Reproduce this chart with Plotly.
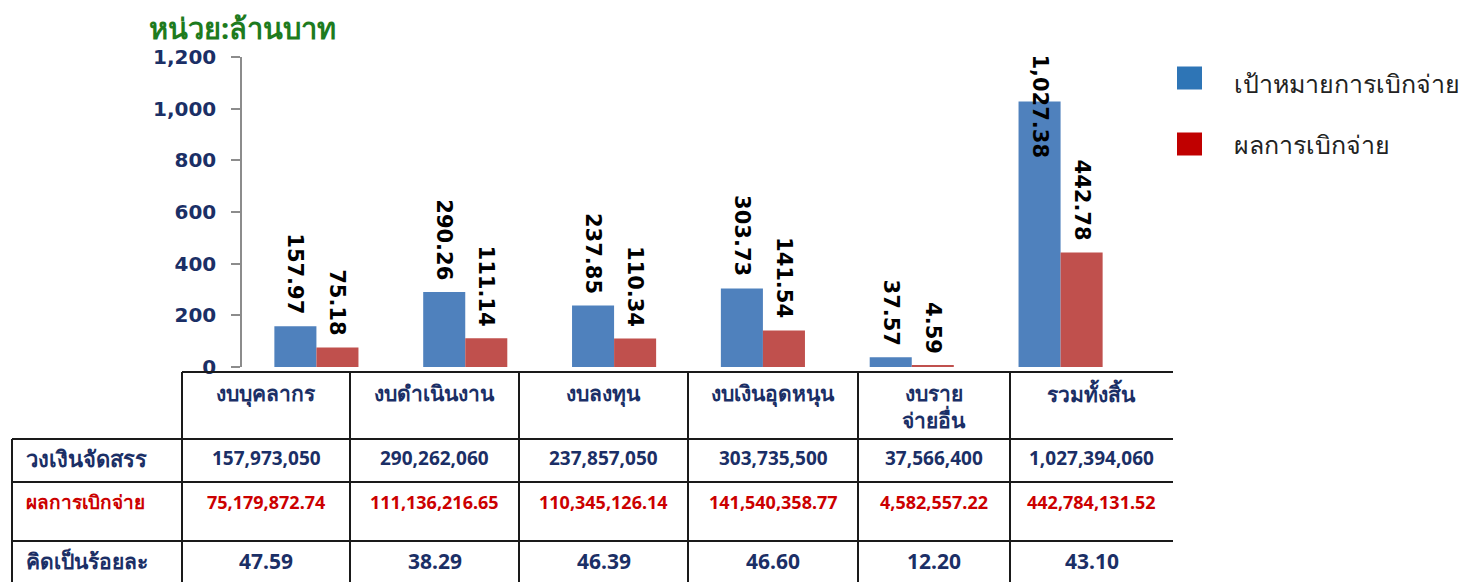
import plotly.graph_objects as go

# ---------------- data ----------------
categories = ["งบบุคลากร", "งบดำเนินงาน", "งบลงทุน", "งบเงินอุดหนุน", "งบราย<br>จ่ายอื่น", "รวมทั้งสิ้น"]
target_mb = [157.97, 290.26, 237.85, 303.73, 37.57, 1027.38]
actual_mb = [75.18, 111.14, 110.34, 141.54, 4.59, 442.78]
series_names = ["เป้าหมายการเบิกจ่าย", "ผลการเบิกจ่าย"]
row_labels = ["วงเงินจัดสรร", "ผลการเบิกจ่าย", "คิดเป็นร้อยละ"]
allocated = ["157,973,050", "290,262,060", "237,857,050", "303,735,500", "37,566,400", "1,027,394,060"]
disbursed = ["75,179,872.74", "111,136,216.65", "110,345,126.14", "141,540,358.77", "4,582,557.22", "442,784,131.52"]
percent = ["47.59", "38.29", "46.39", "46.60", "12.20", "43.10"]
y_ticks = [0, 200, 400, 600, 800, 1000, 1200]
unit_title = "หน่วย:ล้านบาท"

# ---------------- style / layout ----------------
OFF = 8                                   # page body margin
W, H = 1473 - OFF, 582 - OFF
PL, PR, PT, PB = 242, 1135, 57, 367       # plot area in window pixels
NAVY = "#1B2F66"
RED = "#CC0000"
GREEN = "#1E7B1E"
BAR_BLUE = "#4F81BD"
BAR_RED = "#C0504D"
FONT = "Noto Sans, DejaVu Sans, sans-serif"


def px(x):
    return (x - PL) / (PR - PL)


def py(y):
    return (PB - y) / (PB - PT)


fig = go.Figure()
xs = list(range(len(categories)))
fig.add_trace(go.Bar(x=xs, y=target_mb, name=series_names[0], marker=dict(color=BAR_BLUE, line=dict(width=0))))
fig.add_trace(go.Bar(x=xs, y=actual_mb, name=series_names[1], marker=dict(color=BAR_RED, line=dict(width=0))))

annotations = []
shapes = []

LABEL_FONT = dict(family="DejaVu Sans", size=21, color="#000000", weight="bold")
# bar value labels (rotated)
for vals, shift in ((target_mb, -21), (actual_mb, 21)):
    for i, v in enumerate(vals):
        if v > 1000:
            annotations.append(dict(x=i, y=py(52), xref="x", yref="paper", xshift=shift, text=f"{v:,.2f}",
                                    textangle=90, showarrow=False, yanchor="top", xanchor="center",
                                    font=LABEL_FONT))
        else:
            annotations.append(dict(x=i, y=v, xref="x", yref="y", xshift=shift, yshift=10, text=f"{v:,.2f}",
                                    textangle=90, showarrow=False, yanchor="bottom", xanchor="center",
                                    font=LABEL_FONT))

# unit title
annotations.append(dict(x=px(242), y=py(OFF), xref="paper", yref="paper", text=unit_title, showarrow=False,
                        xanchor="center", yanchor="top", borderpad=0, borderwidth=0,
                        font=dict(family=FONT, size=29, color=GREEN, weight="bold")))

# legend (custom)
leg_colors = ["#2E75B6", "#C00000"]
leg_box_y = [78, 144]
leg_text_y = [83, 144]
for name, col, yy, ty in zip(series_names, leg_colors, leg_box_y, leg_text_y):
    shapes.append(dict(type="rect", xref="paper", yref="paper", x0=px(1177), x1=px(1202),
                       y0=py(yy + 11.5), y1=py(yy - 11.5), fillcolor=col, line=dict(width=0)))
    annotations.append(dict(x=px(1232), y=py(ty), xref="paper", yref="paper", text=name, showarrow=False,
                            xanchor="left", yanchor="middle",
                            font=dict(family=FONT, size=25, color="#222222")))

# table geometry
col_edges = [182, 350, 519, 688, 858, 1010, 1173]
row_edges = [372, 439, 482, 541, 590]
LINE = dict(color="#1A1A1A", width=2)
shapes.append(dict(type="line", xref="paper", yref="paper", x0=px(col_edges[0]), x1=px(col_edges[-1]),
                   y0=py(row_edges[0]), y1=py(row_edges[0]), line=LINE))
for ry in row_edges[1:4]:
    shapes.append(dict(type="line", xref="paper", yref="paper", x0=px(12), x1=px(col_edges[-1]),
                       y0=py(ry), y1=py(ry), line=LINE))
shapes.append(dict(type="line", xref="paper", yref="paper", x0=px(12), x1=px(12),
                   y0=py(row_edges[1]), y1=py(row_edges[-1]), line=LINE))
for cx in col_edges[:-1]:
    shapes.append(dict(type="line", xref="paper", yref="paper", x0=px(cx), x1=px(cx),
                       y0=py(row_edges[0]), y1=py(row_edges[-1]), line=LINE))

# header text
for i, c in enumerate(categories):
    cxm = (col_edges[i] + col_edges[i + 1]) / 2
    annotations.append(dict(x=px(cxm), y=py(377), xref="paper", yref="paper", text=c, showarrow=False,
                            xanchor="center", yanchor="top",
                            font=dict(family=FONT, size=21, color=NAVY, weight="bold")))

# row labels
row_label_y = [458, 502, 561]
row_label_style = [(NAVY, 22), (RED, 19), (NAVY, 21)]
for lab, yy, (col, sz) in zip(row_labels, row_label_y, row_label_style):
    annotations.append(dict(x=px(24), y=py(yy), xref="paper", yref="paper", text=lab, showarrow=False,
                            xanchor="left", yanchor="middle",
                            font=dict(family=FONT, size=sz, color=col, weight="bold")))

# cell values
for vals, yy, col, sz in ((allocated, 458, NAVY, 19), (disbursed, 502, RED, 18), (percent, 561, NAVY, 21)):
    for i, v in enumerate(vals):
        cxm = (col_edges[i] + col_edges[i + 1]) / 2
        annotations.append(dict(x=px(cxm), y=py(yy), xref="paper", yref="paper", text=v, showarrow=False,
                                xanchor="center", yanchor="middle",
                                font=dict(family=FONT, size=sz, color=col, weight="bold")))

fig.update_layout(
    width=W, height=H,
    margin=dict(l=PL - OFF, r=W - (PR - OFF), t=PT - OFF, b=H - (PB - OFF), pad=0),
    paper_bgcolor="white", plot_bgcolor="white",
    barmode="group", bargap=0.435, bargroupgap=0,
    showlegend=False,
    annotations=annotations, shapes=shapes,
    xaxis=dict(range=[-0.5, len(categories) - 0.5], showticklabels=False, showline=False, ticks="",
               showgrid=False, zeroline=False, fixedrange=True),
    yaxis=dict(range=[0, 1200], tickvals=y_ticks, tickformat=",", showgrid=False, zeroline=False,
               showline=True, linecolor="#8C8C8C", linewidth=1.5, ticks="outside", ticklen=9,
               tickcolor="#8C8C8C", tickwidth=1.5, ticklabelstandoff=11,
               tickfont=dict(family="DejaVu Sans", size=20, color=NAVY, weight="bold")),
)

fig.write_html("out.html")
